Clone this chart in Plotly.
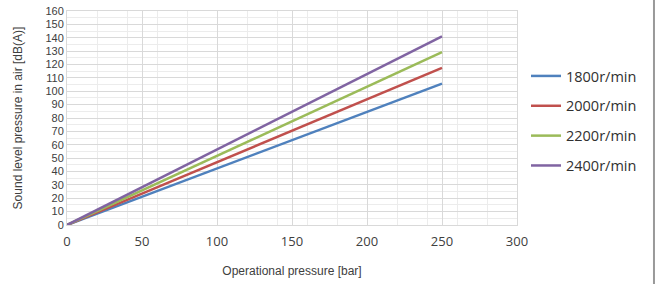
import plotly.graph_objects as go

pressure = [0, 250]
series_names = ["1800r/min", "2000r/min", "2200r/min", "2400r/min"]
sound_1800 = [0, 105.75]
sound_2000 = [0, 117.5]
sound_2200 = [0, 129.25]
sound_2400 = [0, 141]
colors = ["#4F81BD", "#C0504D", "#9BBB59", "#8064A2"]

fig = go.Figure()
for i, (name, ys) in enumerate(zip(series_names, [sound_1800, sound_2000, sound_2200, sound_2400])):
    fig.add_trace(go.Scatter(x=pressure, y=ys, mode="lines", name=name,
                             line=dict(color=colors[i], width=2.5),
                             legendgroup=name))

title_font = "Liberation Sans, Arial, sans-serif"
tick_font = "Open Sans, sans-serif"
fig.update_layout(
    width=656, height=284,
    margin=dict(l=67, r=139, t=11, b=59),
    paper_bgcolor="white", plot_bgcolor="white",
    font=dict(family=title_font, color="#404040"),
    showlegend=True,
    legend=dict(x=1.02, y=0.486, xanchor="left", yanchor="middle",
                font=dict(family=tick_font, size=14.5, color="#303030"),
                traceorder="grouped", tracegroupgap=8,
                itemwidth=30, bgcolor="rgba(0,0,0,0)"),
    xaxis=dict(range=[0, 300], dtick=50, tick0=0,
               showgrid=True, gridcolor="#d9d9d9", gridwidth=1,
               minor=dict(dtick=20, tick0=0, showgrid=True, gridcolor="#ececec", gridwidth=1),
               showline=True, linecolor="#d9d9d9", mirror=True,
               zeroline=False, ticks="", ticklabelstandoff=4,
               automargin=False,
               tickfont=dict(family=tick_font, size=13, color="#404040"),
               title=dict(text="Operational pressure [bar]", font=dict(size=12, color="#404040"), standoff=18)),
    yaxis=dict(range=[0, 160], dtick=10, tick0=0,
               showgrid=True, gridcolor="#d9d9d9", gridwidth=1,
               minor=dict(dtick=5, tick0=0, showgrid=True, gridcolor="#ececec", gridwidth=1),
               showline=True, linecolor="#d9d9d9", mirror=True,
               zeroline=False, ticks="", automargin=False,
               tickfont=dict(family=title_font, size=11, color="#404040"),
               title=dict(text="Sound level pressure in air [dB(A)]", font=dict(size=12, color="#404040"), standoff=20)),
)
fig.add_shape(type="line", xref="paper", yref="paper", x0=1.3044, x1=1.3044,
              y0=-0.3, y1=1.06, line=dict(color="#999999", width=2))

fig.write_html("out.html", config={"displayModeBar": False},
               post_script="document.body.style.margin='0';")
